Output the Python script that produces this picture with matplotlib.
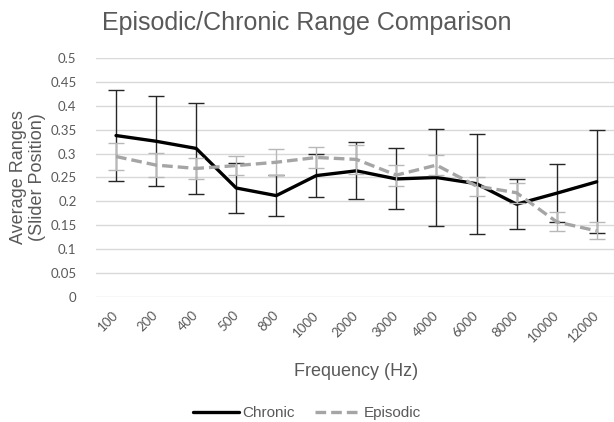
import matplotlib
matplotlib.use('Agg')
import matplotlib.pyplot as plt
import numpy as np

# values
freqs = ['100', '200', '400', '500', '800', '1000', '2000', '3000',
         '4000', '6000', '8000', '10000', '12000']
chronic = [0.338, 0.326, 0.311, 0.228, 0.212, 0.254, 0.264, 0.247,
           0.250, 0.237, 0.194, 0.217, 0.241]
chronic_err = [0.096, 0.094, 0.095, 0.052, 0.043, 0.045, 0.060, 0.064,
               0.102, 0.105, 0.052, 0.061, 0.108]
episodic = [0.294, 0.276, 0.269, 0.275, 0.282, 0.292, 0.288, 0.255,
            0.276, 0.232, 0.218, 0.157, 0.138]
episodic_err = [0.028, 0.025, 0.022, 0.020, 0.027, 0.023, 0.030, 0.022,
                0.021, 0.020, 0.021, 0.020, 0.018]
yticks = [0, 0.05, 0.1, 0.15, 0.2, 0.25, 0.3, 0.35, 0.4, 0.45, 0.5]

txt = '#595959'
plt.rcParams['font.family'] = ['Liberation Sans', 'DejaVu Sans']

W, H = 614, 422
fig = plt.figure(figsize=(W / 100, H / 100), dpi=100)
ax = fig.add_axes([96 / W, 1 - 296.7 / H, 520.7 / W, 238.4 / H])
x = np.arange(len(freqs))

# chronic first, episodic drawn over it
ax.errorbar(x, chronic, yerr=chronic_err, fmt='none', ecolor='#262626',
            elinewidth=1.0, capsize=5.5, capthick=1.0, zorder=3)
ax.plot(x, chronic, color='black', lw=2.4, solid_capstyle='round',
        label='Chronic', zorder=4)
ax.errorbar(x, episodic, yerr=episodic_err, fmt='none', ecolor='#b8b8b8',
            elinewidth=1.0, capsize=5.5, capthick=1.0, zorder=5)
ax.plot(x, episodic, color='#a5a5a5', lw=2.4, dashes=(3.2, 1.5),
        label='Episodic', zorder=6)

ax.set_xlim(-0.5, 12.5)
ax.set_ylim(0, 0.5)
ax.set_yticks(yticks)
ax.set_yticklabels(['%g' % v for v in yticks], fontfamily='Lato',
                   fontsize=9.5, color=txt)
ax.set_xticks(x)
ax.set_xticklabels(freqs, rotation=45, ha='right', va='center',
                   rotation_mode='anchor', fontfamily='Lato',
                   fontsize=9.5, color=txt)
ax.tick_params(axis='y', length=0, pad=14)
ax.tick_params(axis='x', length=0, pad=12)
ax.grid(axis='y', color='#d9d9d9', lw=1.0)
ax.set_axisbelow(True)
for s in ax.spines.values():
    s.set_visible(False)

ax.set_xlabel('Frequency (Hz)', fontsize=13, color=txt, labelpad=13)
fig.text(28 / W, 1 - 177.5 / H, 'Average Ranges\n(Slider Position)',
         fontsize=13, color=txt, rotation=90, ha='center', va='center',
         linespacing=1.15, multialignment='center')
fig.text(0.5, 1 - 30 / H, 'Episodic/Chronic Range Comparison', fontsize=18,
         color=txt, ha='center', va='baseline')

fig.legend(loc='center', bbox_to_anchor=(0.5, 1 - 413 / H), ncol=2,
           frameon=False, fontsize=11, labelcolor=txt, handlelength=3.0,
           handletextpad=0.2, columnspacing=1.3)

fig.savefig('out.png', dpi=100)
